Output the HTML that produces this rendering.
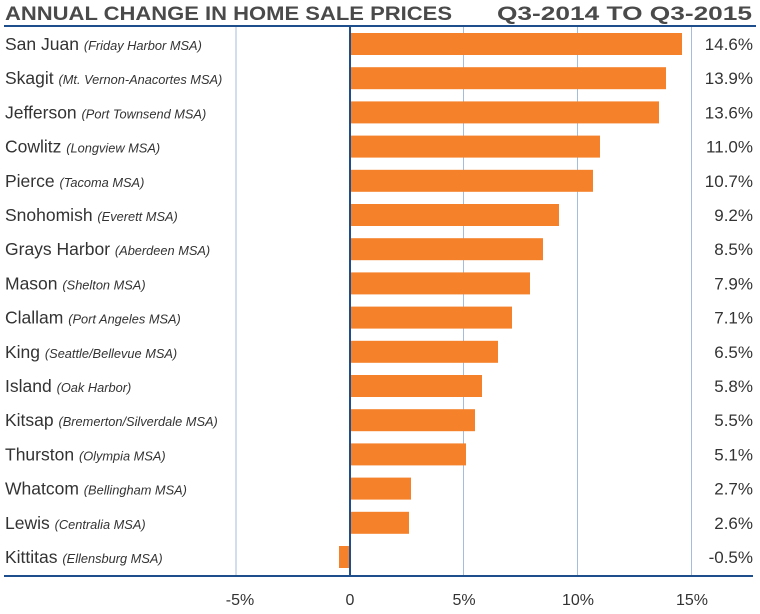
<!DOCTYPE html>
<html><head><meta charset="utf-8"><style>
html,body{margin:0;padding:0;background:#fff;}
svg{display:block;font-family:"Liberation Sans",Arial,sans-serif;}
.n{font-size:17.5px;fill:#333;}
.s{font-size:12.8px;font-style:italic;fill:#333;}
.v{font-size:17px;fill:#333;text-anchor:end;}
.t{font-size:16px;fill:#333;text-anchor:middle;}
</style></head><body>
<svg width="760" height="614" viewBox="0 0 760 614">
<text x="5" y="20" font-size="19" font-weight="bold" fill="#4a4a4a" textLength="447" lengthAdjust="spacingAndGlyphs">ANNUAL CHANGE IN HOME SALE PRICES</text>
<text x="497" y="20" font-size="19" font-weight="bold" fill="#4a4a4a" textLength="255" lengthAdjust="spacingAndGlyphs">Q3-2014 TO Q3-2015</text>
<g stroke="#a4bddc" stroke-width="1">
<line x1="236" y1="26" x2="236" y2="576"/>
<line x1="463.5" y1="26" x2="463.5" y2="576"/>
<line x1="577.5" y1="26" x2="577.5" y2="576"/>
<line x1="691.5" y1="26" x2="691.5" y2="576"/>
</g>
<g fill="#f5822a">
<rect x="350" y="33" width="332" height="22"/>
<rect x="350" y="67.2" width="316" height="22"/>
<rect x="350" y="101.4" width="309" height="22"/>
<rect x="350" y="135.6" width="250" height="22"/>
<rect x="350" y="169.8" width="243" height="22"/>
<rect x="350" y="204" width="209" height="22"/>
<rect x="350" y="238.2" width="193" height="22"/>
<rect x="350" y="272.4" width="180" height="22"/>
<rect x="350" y="306.6" width="162" height="22"/>
<rect x="350" y="340.8" width="148" height="22"/>
<rect x="350" y="375" width="132" height="22"/>
<rect x="350" y="409.2" width="125" height="22"/>
<rect x="350" y="443.4" width="116" height="22"/>
<rect x="350" y="477.6" width="61" height="22"/>
<rect x="350" y="511.8" width="59" height="22"/>
<rect x="339" y="546" width="11" height="22"/>
</g>
<line x1="4" y1="26" x2="756" y2="26" stroke="#1f4e8c" stroke-width="2"/>
<line x1="4" y1="576" x2="753" y2="576" stroke="#1f4e8c" stroke-width="2"/>
<line x1="350" y1="26" x2="350" y2="576" stroke="#1f4e8c" stroke-width="2"/>
<text class="t" x="240" y="605">-5%</text>
<text class="t" x="350" y="605">0</text>
<text class="t" x="464" y="605">5%</text>
<text class="t" x="578" y="605">10%</text>
<text class="t" x="692" y="605">15%</text>
<g>
<text x="5" y="50"><tspan class="n">San Juan </tspan><tspan class="s">(Friday Harbor MSA)</tspan></text>
<text x="5" y="84.2"><tspan class="n">Skagit </tspan><tspan class="s">(Mt. Vernon-Anacortes MSA)</tspan></text>
<text x="5" y="118.4"><tspan class="n">Jefferson </tspan><tspan class="s">(Port Townsend MSA)</tspan></text>
<text x="5" y="152.6"><tspan class="n">Cowlitz </tspan><tspan class="s">(Longview MSA)</tspan></text>
<text x="5" y="186.8"><tspan class="n">Pierce </tspan><tspan class="s">(Tacoma MSA)</tspan></text>
<text x="5" y="221"><tspan class="n">Snohomish </tspan><tspan class="s">(Everett MSA)</tspan></text>
<text x="5" y="255.2"><tspan class="n">Grays Harbor </tspan><tspan class="s">(Aberdeen MSA)</tspan></text>
<text x="5" y="289.4"><tspan class="n">Mason </tspan><tspan class="s">(Shelton MSA)</tspan></text>
<text x="5" y="323.6"><tspan class="n">Clallam </tspan><tspan class="s">(Port Angeles MSA)</tspan></text>
<text x="5" y="357.8"><tspan class="n">King </tspan><tspan class="s">(Seattle/Bellevue MSA)</tspan></text>
<text x="5" y="392"><tspan class="n">Island </tspan><tspan class="s">(Oak Harbor)</tspan></text>
<text x="5" y="426.2"><tspan class="n">Kitsap </tspan><tspan class="s">(Bremerton/Silverdale MSA)</tspan></text>
<text x="5" y="460.4"><tspan class="n">Thurston </tspan><tspan class="s">(Olympia MSA)</tspan></text>
<text x="5" y="494.6"><tspan class="n">Whatcom </tspan><tspan class="s">(Bellingham MSA)</tspan></text>
<text x="5" y="528.8"><tspan class="n">Lewis </tspan><tspan class="s">(Centralia MSA)</tspan></text>
<text x="5" y="563"><tspan class="n">Kittitas </tspan><tspan class="s">(Ellensburg MSA)</tspan></text>
</g>
<g>
<text class="v" x="753" y="50">14.6%</text>
<text class="v" x="753" y="84.2">13.9%</text>
<text class="v" x="753" y="118.4">13.6%</text>
<text class="v" x="753" y="152.6">11.0%</text>
<text class="v" x="753" y="186.8">10.7%</text>
<text class="v" x="753" y="221">9.2%</text>
<text class="v" x="753" y="255.2">8.5%</text>
<text class="v" x="753" y="289.4">7.9%</text>
<text class="v" x="753" y="323.6">7.1%</text>
<text class="v" x="753" y="357.8">6.5%</text>
<text class="v" x="753" y="392">5.8%</text>
<text class="v" x="753" y="426.2">5.5%</text>
<text class="v" x="753" y="460.4">5.1%</text>
<text class="v" x="753" y="494.6">2.7%</text>
<text class="v" x="753" y="528.8">2.6%</text>
<text class="v" x="753" y="563">-0.5%</text>
</g>
</svg>
</body></html>
